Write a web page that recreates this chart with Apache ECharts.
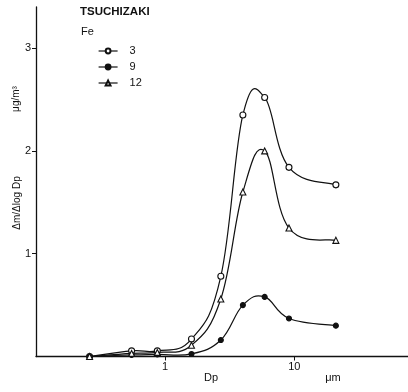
<!DOCTYPE html>
<html>
<head>
<meta charset="utf-8">
<script src="https://cdn.jsdelivr.net/npm/echarts@6/dist/echarts.min.js"></script>
<style>
  html, body { margin: 0; padding: 0; background: #fff; }
  #chart { width: 408px; height: 392px; }
</style>
</head>
<body>
<div id="chart"></div>
<script>
// Particle diameter Dp (µm) of each impactor stage
const dp = [0.26, 0.55, 0.87, 1.6, 2.7, 4.0, 5.9, 9.1, 21];

// Δm/ΔlogDp of Fe (µg/m³) for samples 3, 9 and 12
const fe3  = [0.00, 0.055, 0.055, 0.17, 0.78, 2.35, 2.52, 1.84, 1.67];
const fe9  = [0.00, 0.015, 0.02, 0.025, 0.16, 0.50, 0.58, 0.37, 0.30];
const fe12 = [0.00, 0.03, 0.04, 0.11, 0.56, 1.60, 2.00, 1.25, 1.13];

const seriesNames = ['3', '9', '12'];
const xTickValues = [1, 10];
const yTickValues = [1, 2, 3];

const FONT = 'Liberation Sans, Arial, sans-serif';
const INK = '#111';
const TENSION = 0.6;

function pairs(ys) { return dp.map((x, i) => [x, ys[i]]); }

// Hand-drawn style curve: a cardinal spline through the measured points,
// one cubic segment per interval, positioned with the chart's own scales.
function curveSeries(name, ys) {
  return {
    name: name + ' curve',
    type: 'custom',
    data: pairs(ys),
    silent: true,
    clip: false,
    z: 2,
    renderItem: function (params, api) {
      const i = params.dataIndex;
      const n = dp.length;
      if (i >= n - 1) return null;
      const P = k => api.coord([dp[Math.max(0, Math.min(n - 1, k))], ys[Math.max(0, Math.min(n - 1, k))]]);
      const p0 = P(i - 1), p1 = P(i), p2 = P(i + 1), p3 = P(i + 2);
      const t1 = [(p2[0] - p0[0]) * TENSION, (p2[1] - p0[1]) * TENSION];
      const t2 = [(p3[0] - p1[0]) * TENSION, (p3[1] - p1[1]) * TENSION];
      return {
        type: 'bezierCurve',
        shape: {
          x1: p1[0], y1: p1[1], x2: p2[0], y2: p2[1],
          cpx1: p1[0] + t1[0] / 3, cpy1: p1[1] + t1[1] / 3,
          cpx2: p2[0] - t2[0] / 3, cpy2: p2[1] - t2[1] / 3
        },
        style: { stroke: INK, lineWidth: 1.2, fill: null }
      };
    }
  };
}

// Measured points (markers only; the curve is drawn by curveSeries)
function markerSeries(name, ys, symbol, size, filled) {
  return {
    name: name,
    type: 'line',
    data: pairs(ys),
    symbol: symbol,
    symbolSize: size,
    showAllSymbol: true,
    lineStyle: { color: INK, width: 1.2, opacity: 0 },
    itemStyle: { color: filled ? INK : '#fff', borderColor: INK, borderWidth: 1.1 },
    emphasis: { disabled: true },
    z: 3
  };
}

const chart = echarts.init(document.getElementById('chart'), null, { renderer: 'canvas' });

chart.setOption({
  animation: false,
  backgroundColor: '#fff',
  textStyle: { fontFamily: FONT, color: INK },
  grid: { left: 36, top: 7, width: 372, height: 349.5, containLabel: false },
  xAxis: {
    type: 'log',
    logBase: 10,
    min: 0.1,
    max: 76,
    axisLine: { show: true, lineStyle: { color: INK, width: 1.3 } },
    axisTick: { show: true, length: 4, customValues: xTickValues, lineStyle: { color: INK, width: 1 } },
    minorTick: { show: false },
    splitLine: { show: false },
    axisLabel: {
      margin: 5,
      fontSize: 11,
      color: INK,
      fontFamily: FONT,
      customValues: xTickValues,
      formatter: v => String(Math.round(v))
    }
  },
  yAxis: {
    type: 'value',
    min: 0,
    max: 3.4,
    interval: 1,
    axisLine: { show: true, lineStyle: { color: INK, width: 1.3 } },
    axisTick: { show: true, length: 4, customValues: yTickValues, lineStyle: { color: INK, width: 1 } },
    splitLine: { show: false },
    axisLabel: {
      margin: 5,
      fontSize: 11,
      color: INK,
      fontFamily: FONT,
      customValues: yTickValues,
      formatter: v => String(v)
    }
  },
  legend: {
    data: seriesNames,
    orient: 'vertical',
    left: 93,
    top: 39,
    itemWidth: 19,
    itemHeight: 6,
    itemGap: 2,
    selectedMode: false,
    lineStyle: { color: INK, width: 1.2, opacity: 1 },
    textStyle: { fontSize: 11, lineHeight: 14, color: INK, fontFamily: FONT, padding: [0, 0, 0, 7] }
  },
  graphic: [
    { type: 'text', left: 80, top: 6,
      style: { text: 'TSUCHIZAKI', fontSize: 11.5, fontWeight: 'bold', fill: INK, fontFamily: FONT } },
    { type: 'text', left: 81, top: 26,
      style: { text: 'Fe', fontSize: 11, fill: INK, fontFamily: FONT } },
    { type: 'text', x: 16, y: 99, rotation: Math.PI / 2,
      style: { text: 'μg/m³', fontSize: 10, fill: INK, fontFamily: FONT, align: 'center', verticalAlign: 'middle' } },
    { type: 'text', x: 17, y: 203, rotation: Math.PI / 2,
      style: { text: 'Δm/Δlog Dp', fontSize: 10, fill: INK, fontFamily: FONT, align: 'center', verticalAlign: 'middle' } },
    { type: 'text', x: 211, y: 378,
      style: { text: 'Dp', fontSize: 11, fill: INK, fontFamily: FONT, align: 'center', verticalAlign: 'middle' } },
    { type: 'text', x: 333, y: 378,
      style: { text: 'μm', fontSize: 11, fill: INK, fontFamily: FONT, align: 'center', verticalAlign: 'middle' } }
  ],
  series: [
    curveSeries('3', fe3),
    curveSeries('9', fe9),
    curveSeries('12', fe12),
    markerSeries('3', fe3, 'circle', 6, false),
    markerSeries('9', fe9, 'circle', 5, true),
    markerSeries('12', fe12, 'triangle', 6, false)
  ]
});
</script>
</body>
</html>
